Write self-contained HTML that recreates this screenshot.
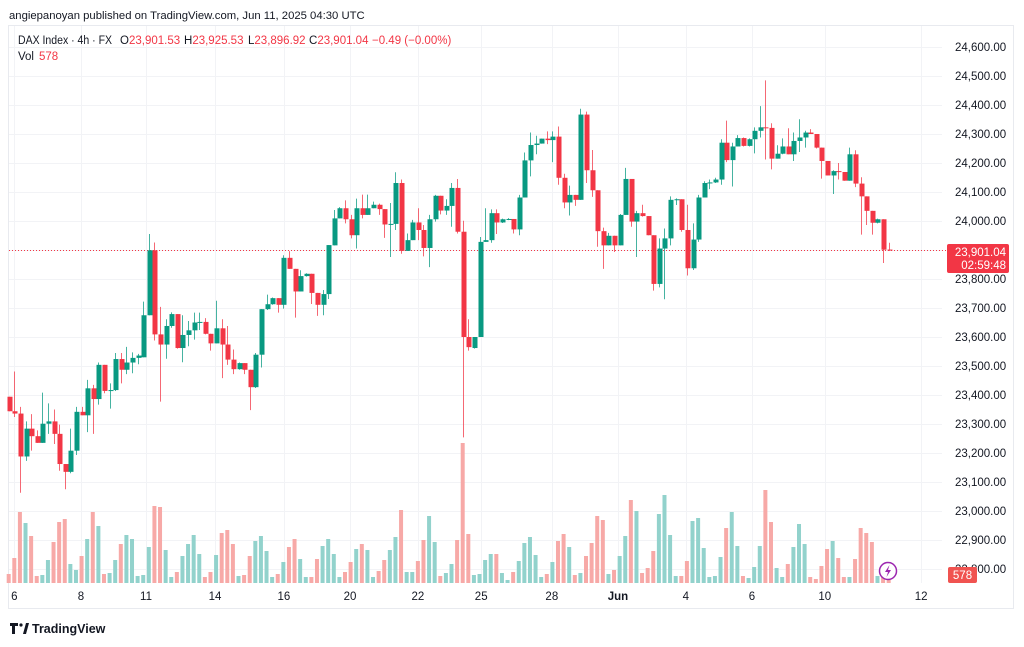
<!DOCTYPE html>
<html><head><meta charset="utf-8">
<style>
body{margin:0;background:#fff;width:1024px;height:642px;overflow:hidden;font-family:"Liberation Sans",sans-serif;}
svg text{font-family:"Liberation Sans",sans-serif;}
</style></head>
<body>
<svg id="chart" width="1024" height="642" xmlns="http://www.w3.org/2000/svg">
<text x="9" y="19" font-size="11.3" fill="#131722">angiepanoyan published on TradingView.com, Jun 11, 2025 04:30 UTC</text>
<rect x="8.5" y="25.5" width="1005" height="583" fill="none" stroke="#e8eaef"/>
<g id="grid"></g>
<g id="vols"></g>
<g id="candles"></g>
<g id="axis"></g>
<g id="taxis"></g>
<g font-size="11.5">
<text x="18" y="44" fill="#131722" textLength="94" lengthAdjust="spacingAndGlyphs">DAX Index · 4h · FX</text>
<text x="120" y="44" fill="#131722">O<tspan fill="#f23645">23,901.53</tspan></text>
<text x="184" y="44" fill="#131722">H<tspan fill="#f23645">23,925.53</tspan></text>
<text x="248" y="44" fill="#131722">L<tspan fill="#f23645">23,896.92</tspan></text>
<text x="309" y="44" fill="#131722">C<tspan fill="#f23645">23,901.04</tspan></text>
<text x="372" y="44" fill="#f23645">−0.49 (−0.00%)</text>
<text x="18" y="60" fill="#131722">Vol</text>
<text x="39" y="60" fill="#f23645">578</text>
</g>
<g>
<rect x="947" y="244" width="62" height="29" rx="2" fill="#f23645"/>
<text x="1006" y="256" font-size="11.5" fill="#fff" text-anchor="end">23,901.04</text>
<text x="1006" y="269" font-size="11.5" fill="#fff" text-anchor="end">02:59:48</text>
</g>
<g>
<rect x="948" y="567" width="29" height="16" rx="2" fill="#f05350"/>
<text x="962.5" y="579" font-size="11.5" fill="#fff" text-anchor="middle">578</text>
</g>
<g>
<circle cx="888" cy="571" r="8.5" fill="#fff" stroke="#9c27b0" stroke-width="1.5"/>
<path d="M889.5 565 L885 572 L888 572 L886.5 577 L891 570 L888 570 Z" fill="#9c27b0"/>
</g>
<g>
<path d="M10 623 h8 v3 h-3 v8 h-3 v-8 h-2 Z" fill="#131722"/>
<circle cx="21" cy="625" r="1.6" fill="#131722"/>
<path d="M23 634 L26 623 L29 623 L26 634 Z" fill="#131722"/>
<text x="32" y="633" font-size="12.5" fill="#131722" font-weight="bold">TradingView</text>
</g>
</svg>
<script>
const opens=[23394,23344,23336,23188,23284,23258,23235,23301,23309,23266,23162,23135,23208,23342,23330,23423,23386,23504,23414,23417,23524,23487,23512,23528,23530,23675,23899,23609,23574,23638,23679,23562,23607,23623,23650,23652,23611,23578,23630,23574,23522,23489,23510,23487,23427,23539,23696,23713,23734,23711,23873,23835,23757,23810,23818,23752,23711,23748,23916,24009,24044,24006,23951,24044,24021,24044,24056,24041,23988,23990,24131,23897,23934,23995,23969,23907,24006,24087,24036,24052,24114,23963,23600,23562,23600,23928,23934,24027,23995,24006,24007,23971,24081,24209,24262,24267,24284,24279,24291,24149,24064,24090,24073,24367,24175,24106,23965,23916,23949,23916,24021,24145,23998,24027,24017,23951,23783,23905,23940,24073,24075,23969,23837,23936,24081,24131,24133,24143,24270,24210,24257,24286,24259,24282,24311,24323,24321,24215,24232,24257,24230,24276,24288,24305,24300,24253,24207,24157,24172,24169,24139,24230,24129,24085,24035,23994,24006,23901.53];
const highs=[23394,23481,23359,23309,23334,23278,23408,23371,23350,23298,23162,23284,23359,23359,23452,23435,23512,23504,23440,23545,23545,23566,23547,23542,23722,23955,23926,23704,23661,23685,23679,23675,23655,23684,23684,23665,23611,23725,23661,23638,23557,23512,23510,23487,23545,23696,23746,23736,23734,23882,23896,23835,23830,23820,23818,23752,23762,23917,24038,24048,24071,24021,24077,24091,24091,24067,24060,24041,24062,24168,24143,23957,24004,24044,23986,24021,24090,24087,24075,24131,24145,24001,23661,23600,23945,24044,24040,24040,24008,24010,24007,24090,24236,24305,24294,24284,24309,24309,24326,24163,24122,24090,24387,24377,24245,24106,23977,23959,23949,24024,24183,24145,24035,24056,24017,23951,23940,23974,24085,24078,24075,24056,23992,24090,24137,24143,24149,24282,24346,24270,24296,24288,24285,24323,24396,24485,24337,24261,24285,24320,24305,24351,24311,24317,24300,24253,24207,24175,24200,24169,24253,24244,24151,24085,24035,24008,24006,23925];
const lows=[23344,23324,23063,23173,23208,23235,23235,23266,23231,23139,23075,23130,23193,23330,23272,23266,23367,23406,23353,23414,23440,23472,23475,23506,23530,23675,23588,23377,23525,23632,23560,23513,23568,23591,23624,23609,23553,23578,23458,23504,23472,23487,23472,23348,23424,23495,23693,23711,23684,23698,23835,23667,23757,23808,23714,23673,23675,23731,23916,24009,23992,23940,23905,24009,24021,24044,24021,23942,23876,23969,23887,23897,23934,23934,23878,23841,23998,24023,24021,23980,23957,23254,23553,23560,23600,23928,23925,23955,23993,24003,23957,23951,24081,24154,24230,24267,24265,24203,24125,24044,24019,24052,24073,24131,24083,23911,23835,23916,23893,23916,24021,23980,23876,24015,23951,23760,23771,23730,23916,24055,23963,23812,23831,23928,24081,24110,24131,24125,24203,24119,24257,24257,24257,24233,24288,24212,24178,24215,24230,24230,24207,24238,24253,24300,24250,24146,24157,24093,24143,24139,24139,24117,23953,23986,23953,23992,23855,23897];
const closes=[23344,23336,23188,23284,23258,23235,23301,23309,23266,23162,23135,23208,23342,23330,23423,23386,23504,23414,23417,23524,23487,23512,23528,23536,23675,23899,23609,23574,23638,23679,23562,23607,23623,23650,23652,23611,23578,23630,23574,23522,23489,23510,23487,23427,23539,23696,23713,23734,23711,23873,23835,23757,23810,23818,23752,23711,23748,23917,24009,24044,24006,23951,24044,24021,24044,24056,24041,23988,23990,24131,23897,23934,23995,23969,23907,24006,24087,24036,24052,24114,23963,23600,23565,23600,23928,23934,24027,23995,24006,24007,23971,24081,24209,24262,24267,24284,24279,24291,24149,24064,24090,24073,24367,24175,24106,23965,23916,23949,23916,24021,24145,23998,24027,24017,23951,23783,23905,23940,24073,24075,23969,23837,23936,24081,24131,24133,24143,24270,24210,24257,24286,24259,24282,24311,24323,24321,24215,24232,24257,24230,24276,24288,24305,24300,24253,24207,24157,24172,24169,24139,24230,24129,24085,24035,23994,24006,23901,23901.04];
const volumes=[9,25,71,60,47,7,8,23,41,61,64,19,13,27,44,71,57,9,10,23,39,48,44,7,8,36,77,76,33,6,11,27,39,48,29,6,11,28,50,53,39,7,8,27,42,47,32,6,9,21,36,44,24,6,6,24,37,44,29,6,11,21,34,39,33,6,12,23,33,46,73,11,11,22,43,67,41,7,10,19,43,140,49,8,9,23,29,29,10,3,11,22,40,46,28,6,9,21,42,49,36,8,10,27,40,67,63,9,13,27,47,83,72,10,15,32,69,88,48,7,7,22,62,65,35,6,7,26,55,71,37,7,5,16,37,93,61,15,6,19,36,59,39,6,4,17,34,42,25,6,6,24,55,50,41,7,6,3];
const priceTicks=[24600,24500,24400,24300,24200,24100,24000,23800,23700,23600,23500,23400,23300,23200,23100,23000,22900,22800];
const gridPrices=[24600,24500,24400,24300,24200,24100,24000,23900,23800,23700,23600,23500,23400,23300,23200,23100,23000,22900,22800];
const timeLabels=["6","8","11","14","16","20","22","25","28","Jun","4","6","10","12"];
const timeIdx=[1,12.9,24.5,36.8,49.1,60.9,73.0,84.3,96.9,108.7,120.8,132.6,145.6,162.8];
const lastPrice=23901.04;

const NS="http://www.w3.org/2000/svg";
const X=i=>8.7+i*5.605;
const Y=p=>47+(24600-p)*0.29;
const VY=v=>583-v;
function mk(tag,attrs,parent){const e=document.createElementNS(NS,tag);for(const k in attrs)e.setAttribute(k,attrs[k]);parent.appendChild(e);return e;}
const grid=document.getElementById('grid'),vols=document.getElementById('vols'),cg=document.getElementById('candles'),ax=document.getElementById('axis'),tx=document.getElementById('taxis');
gridPrices.forEach(p=>{const l=mk('line',{x1:9,x2:942,y1:Math.round(Y(p))+0.5,y2:Math.round(Y(p))+0.5,stroke:'#f2f3f6'},grid);

});
timeIdx.forEach((t,k)=>{const x=Math.round(X(t))+0.5;const l=mk('line',{x1:x,x2:x,y1:26,y2:583,stroke:'#f2f3f6'},grid);


const tt=mk('text',{x:X(t),y:600,'font-size':11.5,fill:'#131722','text-anchor':'middle','font-weight':timeLabels[k]==='Jun'?'bold':'normal'},tx);tt.textContent=timeLabels[k];

});
priceTicks.forEach(p=>{const t=mk('text',{x:955,y:Y(p)+4,'font-size':11.5,fill:'#131722'},ax);t.textContent=p.toLocaleString('en-US',{minimumFractionDigits:2});

});
const pl=mk('line',{x1:9,x2:946,y1:Math.round(Y(lastPrice))+0.5,y2:Math.round(Y(lastPrice))+0.5,stroke:'#f23645','stroke-dasharray':'1 2'},grid);


for(let i=0;i<opens.length;i++){
 const up=closes[i]>=opens[i];const col=up?'#089981':'#f23645';const x=X(i);
 const vb=mk('rect',{x:x-2,y:VY(volumes[i]),width:4,height:volumes[i],fill:up?'#92d2cc':'#f7a9a7'},vols);
 
 
 const w=mk('line',{x1:Math.round(x)+0.5,x2:Math.round(x)+0.5,y1:Y(highs[i]),y2:Y(lows[i]),stroke:col,'stroke-opacity':0.75},cg);
 
 
 const top=Y(Math.max(opens[i],closes[i])),bot=Y(Math.min(opens[i],closes[i]));
 const b=mk('rect',{x:Math.round(x)-1.5,y:top,width:5,height:Math.max(1,bot-top),fill:col},cg);
 
 
}
</script>
</body></html>
